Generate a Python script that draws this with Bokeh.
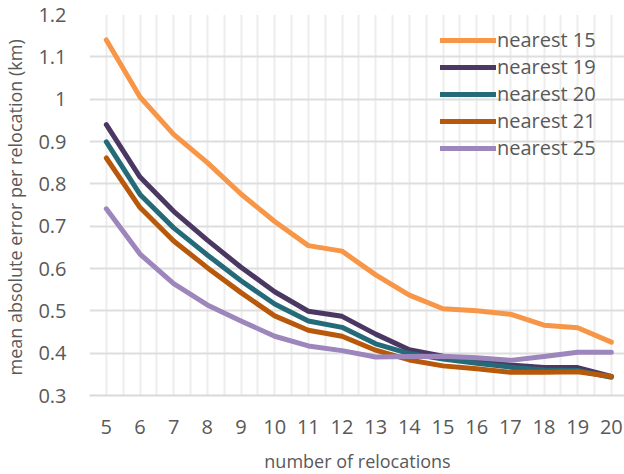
from bokeh.plotting import figure
from bokeh.models import FixedTicker, Legend, LegendItem, Range1d
from bokeh.embed import file_html
from bokeh.resources import INLINE

relocations = list(range(5, 21))
nearest_15 = [1.14, 1.005, 0.917, 0.850, 0.776, 0.711, 0.654, 0.641, 0.585, 0.537, 0.505, 0.500, 0.492, 0.466, 0.460, 0.426]
nearest_19 = [0.940, 0.816, 0.735, 0.667, 0.603, 0.545, 0.499, 0.487, 0.445, 0.408, 0.393, 0.382, 0.372, 0.366, 0.366, 0.345]
nearest_20 = [0.899, 0.775, 0.696, 0.632, 0.571, 0.516, 0.476, 0.461, 0.422, 0.399, 0.386, 0.376, 0.367, 0.360, 0.359, 0.343]
nearest_21 = [0.861, 0.744, 0.665, 0.602, 0.543, 0.488, 0.454, 0.440, 0.407, 0.384, 0.370, 0.363, 0.355, 0.355, 0.356, 0.345]
nearest_25 = [0.741, 0.634, 0.564, 0.514, 0.476, 0.440, 0.417, 0.406, 0.391, 0.392, 0.393, 0.389, 0.383, 0.392, 0.402, 0.402]

series_names = ["nearest 15", "nearest 19", "nearest 20", "nearest 21", "nearest 25"]
series_values = [nearest_15, nearest_19, nearest_20, nearest_21, nearest_25]
colors = ["#F79646", "#4B3862", "#246A79", "#B8580A", "#9D86BB"]

y_ticks = [0.3, 0.4, 0.5, 0.6, 0.7, 0.8, 0.9, 1.0, 1.1, 1.2]
y_tick_labels = {0.3: "0.3", 0.4: "0.4", 0.5: "0.5", 0.6: "0.6", 0.7: "0.7",
                 0.8: "0.8", 0.9: "0.9", 1.0: "1", 1.1: "1.1", 1.2: "1.2"}

FONT = "Open Sans"
TXT = "#595959"

p = figure(frame_width=536, frame_height=381, output_backend="svg", toolbar_location=None,
           x_range=Range1d(4.5, 20.42), y_range=Range1d(0.3, 1.2),
           min_border_left=80, min_border_right=0, min_border_top=14, min_border_bottom=0)
p.outline_line_color = None
p.background_fill_color = "white"
p.border_fill_color = "white"

renderers = []
for name, vals, c in zip(series_names, series_values, colors):
    r = p.line(relocations, vals, line_color=c, line_width=5,
               line_join="round", line_cap="round")
    renderers.append((name, r))

# grids
p.xgrid.ticker = FixedTicker(ticks=[4.5 + 0.5 * i for i in range(33)])
p.xgrid.grid_line_color = "#EDEDED"
p.xgrid.grid_line_width = 2
p.ygrid.ticker = FixedTicker(ticks=y_ticks)
p.ygrid.grid_line_color = "#DEDEDE"
p.ygrid.grid_line_width = 2

# x axis
p.xaxis.ticker = FixedTicker(ticks=relocations)
p.xaxis.axis_line_color = "#D9D9D9"
p.xaxis.axis_line_width = 2
p.xaxis.major_tick_line_color = None
p.xaxis.minor_tick_line_color = None
p.xaxis.major_tick_out = 0
p.xaxis.major_tick_in = 0
p.xaxis.major_label_standoff = 24
p.xaxis.major_label_text_font = FONT
p.xaxis.major_label_text_font_size = "20px"
p.xaxis.major_label_text_color = TXT
p.xaxis.axis_label = "number of relocations"
p.xaxis.axis_label_text_font = FONT
p.xaxis.axis_label_text_font_size = "18px"
p.xaxis.axis_label_text_font_style = "normal"
p.xaxis.axis_label_text_color = TXT
p.xaxis.axis_label_standoff = 12

# y axis
p.yaxis.ticker = FixedTicker(ticks=y_ticks)
p.yaxis.major_label_overrides = y_tick_labels
p.yaxis.axis_line_color = None
p.yaxis.major_tick_line_color = None
p.yaxis.minor_tick_line_color = None
p.yaxis.major_tick_out = 0
p.yaxis.major_tick_in = 0
p.yaxis.major_label_standoff = 23
p.yaxis.major_label_text_font = FONT
p.yaxis.major_label_text_font_size = "20px"
p.yaxis.major_label_text_color = TXT
p.yaxis.axis_label = "mean absolute  error per relocation (km)"
p.yaxis.axis_label_text_font = FONT
p.yaxis.axis_label_text_font_size = "18px"
p.yaxis.axis_label_text_font_style = "normal"
p.yaxis.axis_label_text_color = TXT
p.yaxis.axis_label_standoff = 8

legend = Legend(items=[LegendItem(label=n, renderers=[r]) for n, r in renderers],
                location=(351, 234), padding=0, spacing=-2, margin=0,
                glyph_width=56, glyph_height=26, label_height=26, label_standoff=1,
                label_text_font=FONT, label_text_font_size="20px",
                label_text_color=TXT, background_fill_alpha=0,
                border_line_alpha=0)
p.add_layout(legend, "center")

open("out.html", "w").write(file_html(p, INLINE))
